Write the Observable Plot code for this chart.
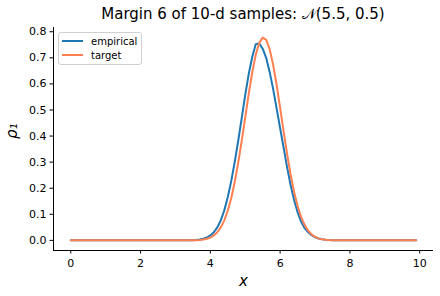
<!DOCTYPE html>
<html>
<head>
<meta charset="utf-8">
<script src="https://cdn.jsdelivr.net/npm/d3@7"></script>
<script src="https://cdn.jsdelivr.net/npm/@observablehq/plot@0.6"></script>
<style>
  html, body { margin: 0; padding: 0; background: #fff; }
  #wrap { position: relative; width: 440px; height: 296px; font-family: "DejaVu Sans", sans-serif; }
  #title { position: absolute; left: 53px; width: 380px; top: 7px; text-align: center; font-size: 15px; line-height: 15px; color: #000; white-space: nowrap; }
  #legend { position: absolute; left: 58px; top: 32px; width: 82px; height: 31px; border: 1px solid #d0d0d0; border-radius: 3px; background: rgba(255,255,255,0.8); font-size: 10px; color: #000; }
  .item { position: absolute; left: 3px; height: 12px; display: flex; align-items: center; }
  .swatch { width: 21px; height: 2px; margin-right: 8px; }
</style>
</head>
<body>
<div id="wrap">
  <div id="chart"></div>
  <div id="title"></div>
  <div id="legend"></div>
</div>
<script>
// ---- data ----
const titleText = "Margin 6 of 10-d samples: 𝒩(5.5, 0.5)";
const seriesNames = ["empirical", "target"];
const seriesColors = ["#1f77b4", "#ff7f50"];
const xGrid = [0, 1, 2, 3, 3.4, 3.5, 3.6, 3.7, 3.8, 3.9, 4.0, 4.1, 4.2, 4.3, 4.4, 4.5, 4.6, 4.7, 4.8, 4.9,
  5.0, 5.1, 5.2, 5.3, 5.4, 5.5, 5.6, 5.7, 5.8, 5.9, 6.0, 6.1, 6.2, 6.3, 6.4, 6.5, 6.6, 6.7, 6.8, 6.9,
  7.0, 7.1, 7.2, 7.3, 7.4, 7.5, 7.6, 8, 9, 9.9];
const empirical = [0, 0, 0, 0, 0.0005, 0.0009, 0.0017, 0.0033, 0.0062, 0.011, 0.019, 0.031, 0.050, 0.077, 0.115, 0.166, 0.228, 0.302, 0.383, 0.470,
  0.558, 0.638, 0.703, 0.752, 0.755, 0.735, 0.700, 0.645, 0.580, 0.505, 0.430, 0.355, 0.280, 0.212, 0.155, 0.108, 0.072, 0.047, 0.032, 0.020,
  0.012, 0.007, 0.004, 0.002, 0.001, 0.0005, 0.0002, 0, 0, 0];
const target = [0, 0, 0, 0, 0.0002, 0.0004, 0.0009, 0.0017, 0.0033, 0.0061, 0.0109, 0.0187, 0.0310, 0.0496, 0.0766, 0.1136, 0.1627, 0.2245, 0.2984, 0.3822,
  0.4719, 0.5615, 0.6438, 0.7114, 0.7575, 0.7774, 0.7688, 0.7328, 0.6730, 0.5957, 0.5081, 0.4177, 0.3309, 0.2526, 0.1859, 0.1317, 0.0900, 0.0593, 0.0377, 0.0230,
  0.0136, 0.0077, 0.0042, 0.0022, 0.0011, 0.0005, 0.0002, 0, 0, 0];
const xTicks = [0, 2, 4, 6, 8, 10];
const yTicks = [0.0, 0.1, 0.2, 0.3, 0.4, 0.5, 0.6, 0.7, 0.8];
const xLabel = "x";
const yLabel = "ρ₁";

// ---- build ----
const rows = [];
seriesNames.forEach((name, k) => {
  const vals = k === 0 ? empirical : target;
  xGrid.forEach((x, i) => rows.push({series: name, x, y: vals[i]}));
});
const xDom = [-0.495, 10.395];
const yDom = [-0.03887, 0.8163];

const chart = Plot.plot({
  width: 440,
  height: 296,
  marginLeft: 53,
  marginRight: 7,
  marginTop: 27,
  marginBottom: 46,
  style: {fontFamily: "DejaVu Sans, sans-serif", fontSize: "11px", color: "#000", background: "#fff"},
  x: {domain: xDom},
  y: {domain: yDom},
  color: {domain: seriesNames, range: seriesColors},
  marks: [
    Plot.axisX({ticks: xTicks, tickSize: 3.5, tickPadding: 5, tickFormat: d => String(d), label: null}),
    Plot.axisY({ticks: yTicks, tickSize: 3.5, tickPadding: 3.5, tickFormat: d3.format(".1f"), label: null}),
    Plot.ruleX([xDom[0]], {stroke: "#000", strokeWidth: 1}),
    Plot.ruleY([yDom[0]], {stroke: "#000", strokeWidth: 1}),
    Plot.line(rows.filter(d => d.series === seriesNames[0]), {x: "x", y: "y", stroke: "series", strokeWidth: 2}),
    Plot.line(rows.filter(d => d.series === seriesNames[1]), {x: "x", y: "y", stroke: "series", strokeWidth: 2}),
    Plot.text([xLabel], {text: d => d, frameAnchor: "bottom", dy: 35, fontSize: 15, fontStyle: "italic"}),
    Plot.text([yLabel], {text: d => d, frameAnchor: "left", dx: -41, rotate: -90, fontSize: 15, fontStyle: "italic"})
  ]
});
document.getElementById("chart").appendChild(chart);
document.getElementById("title").textContent = titleText;

const legend = document.getElementById("legend");
seriesNames.forEach((name, k) => {
  const item = document.createElement("div");
  item.className = "item";
  item.style.top = (k === 0 ? 2 : 16) + "px";
  const sw = document.createElement("div");
  sw.className = "swatch";
  sw.style.background = seriesColors[k];
  const t = document.createElement("span");
  t.textContent = name;
  item.appendChild(sw);
  item.appendChild(t);
  legend.appendChild(item);
});
</script>
</body>
</html>
